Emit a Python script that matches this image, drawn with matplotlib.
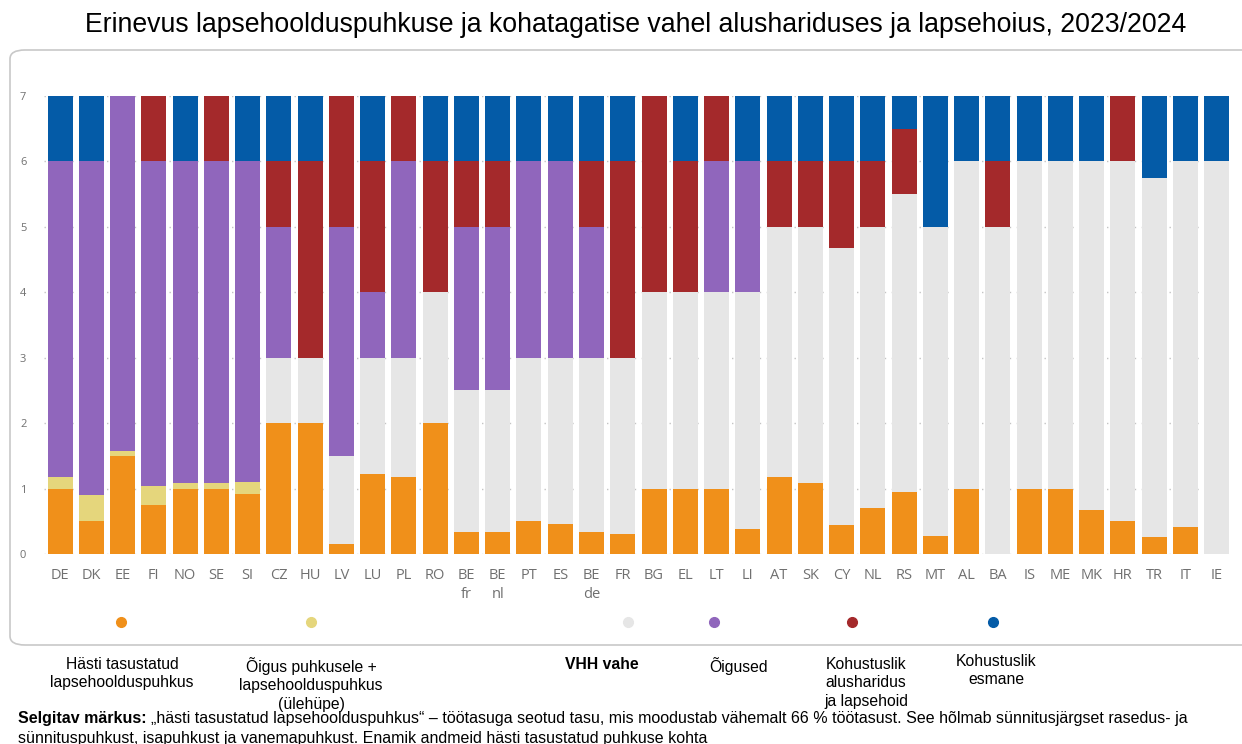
import matplotlib
matplotlib.use("Agg")
import matplotlib.pyplot as plt
import numpy as np
from matplotlib.patches import FancyBboxPatch


countries = ["DE", "DK", "EE", "FI", "NO", "SE", "SI", "CZ", "HU", "LV", "LU", "PL", "RO",
             "BE\nfr", "BE\nnl", "PT", "ES", "BE\nde", "FR", "BG", "EL", "LT", "LI", "AT", "SK",
             "CY", "NL", "RS", "MT", "AL", "BA", "IS", "ME", "MK", "HR", "TR", "IT", "IE"]

# segment heights (years), bottom to top
well_paid = [1.0, 0.5, 1.5, 0.75, 1.0, 1.0, 0.92, 2, 2, 0.16, 1.23, 1.17, 2,
             0.33, 0.33, 0.5, 0.46, 0.33, 0.31, 1, 1, 1, 0.38, 1.17, 1.08,
             0.44, 0.7, 0.94, 0.27, 1, 0, 1, 1, 0.67, 0.5, 0.26, 0.42, 0]
leave_plus = [0.17, 0.4, 0.08, 0.29, 0.08, 0.08, 0.18, 0, 0, 0, 0, 0, 0,
              0, 0, 0, 0, 0, 0, 0, 0, 0, 0, 0, 0,
              0, 0, 0, 0, 0, 0, 0, 0, 0, 0, 0, 0, 0]
gap = [0, 0, 0, 0, 0, 0, 0, 1, 1, 1.34, 1.77, 1.83, 2,
       2.17, 2.17, 2.5, 2.54, 2.67, 2.69, 3, 3, 3, 3.62, 3.83, 3.92,
       4.23, 4.3, 4.56, 4.73, 5, 5, 5, 5, 5.33, 5.5, 5.49, 5.58, 6]
entitlement = [4.83, 5.1, 5.42, 4.96, 4.92, 4.92, 4.9, 2, 0, 3.5, 1, 3, 0,
               2.5, 2.5, 3, 3, 2, 0, 0, 0, 2, 2, 0, 0,
               0, 0, 0, 0, 0, 0, 0, 0, 0, 0, 0, 0, 0]
compulsory_ecec = [0, 0, 0, 1, 0, 1, 0, 1, 3, 2, 2, 1, 2,
                   1, 1, 0, 0, 1, 3, 3, 2, 1, 0, 1, 1,
                   1.33, 1, 1, 0, 0, 1, 0, 0, 0, 1, 0, 0, 0]
compulsory_primary = [1, 1, 0, 0, 1, 0, 1, 1, 1, 0, 1, 0, 1,
                      1, 1, 1, 1, 1, 1, 0, 1, 0, 1, 1, 1,
                      1, 1, 0.5, 2, 1, 1, 1, 1, 1, 0, 1.25, 1, 1]

series = [well_paid, leave_plus, gap, entitlement, compulsory_ecec, compulsory_primary]
colors = ["#F0901A", "#E5D67C", "#E6E6E6", "#9066BC", "#A4292B", "#045BA7"]
legend_labels = ["Hästi tasustatud\nlapsehoolduspuhkus",
                 "Õigus puhkusele +\nlapsehoolduspuhkus\n(ülehüpe)",
                 "VHH vahe", "Õigused",
                 "Kohustuslik\nalusharidus\nja lapsehoid",
                 "Kohustuslik\nesmane"]

title = "Erinevus lapsehoolduspuhkuse ja kohatagatise vahel alushariduses ja lapsehoius, 2023/2024"

W, H = 1242, 744
fig = plt.figure(figsize=(W / 100, H / 100), dpi=100)
fig.patch.set_facecolor("white")

# panel frame
panel = FancyBboxPatch((10 / W, 1 - 645 / H), 1.1, (645 - 50) / H,
                       boxstyle="round,pad=0,rounding_size=0.012",
                       transform=fig.transFigure, facecolor="none",
                       edgecolor="#C8C8C8", linewidth=1.2, zorder=-1)
fig.add_artist(panel)

ax = fig.add_axes([44.4 / W, 1 - 554 / H, 1188 / W, 458 / H])
ax.set_facecolor("none")

x = np.arange(len(countries))
bottom = np.zeros(len(countries))
for vals, c in zip(series, colors):
    vals = np.array(vals, dtype=float)
    ax.bar(x, vals, bottom=bottom, width=0.8, color=c, edgecolor="none")
    bottom += vals

ax.set_xlim(-0.5, len(countries) - 0.5)
ax.set_ylim(0, 7)
ax.set_yticks(range(8))
ax.set_xticks(x)
ax.set_xticklabels(countries, fontsize=10.5, color="#707070", family="Open Sans",
                   linespacing=1.4)
ax.tick_params(axis="y", labelsize=8, labelcolor="#707070", length=0, pad=13)
ax.tick_params(axis="x", length=0, pad=10)
for lbl in ax.get_yticklabels():
    lbl.set_family("Open Sans")
ax.grid(axis="y", linestyle=(0, (1, 4)), color="#C4C4C4", linewidth=1)
ax.set_axisbelow(True)
for s in ax.spines.values():
    s.set_visible(False)

fig.text(636 / W, 1 - 25 / H, title, ha="center", va="center",
         fontsize=19.2, family="Liberation Sans", color="black")

# legend dots (inside panel) and labels (below panel)
dot_x = [121, 311, 628, 714, 852, 993]
lab_x = [122, 311, 602, 739, 866, 996]
lab_y = [657, 657, 657, 657, 657, 654]
for i in range(len(colors)):
    fig.add_artist(plt.Line2D([dot_x[i] / W], [1 - 622 / H], marker="o", markersize=7,
                              color=colors[i], linestyle="none",
                              transform=fig.transFigure))
    fig.text(lab_x[i] / W, 1 - lab_y[i] / H, legend_labels[i], ha="center", va="top",
             fontsize=11.3, family="Liberation Sans", linespacing=1.28,
             fontweight="bold" if legend_labels[i] == "VHH vahe" else "normal")

# footnote
fig.canvas.draw()
r = fig.canvas.get_renderer()
t1 = fig.text(18 / W, 1 - 718 / H, "Selgitav märkus:", ha="left", va="center",
              fontsize=11.5, fontweight="bold", family="Liberation Sans")
bb = t1.get_window_extent(renderer=r)
fig.text(bb.x1 / W + 4 / W, 1 - 718 / H,
         "„hästi tasustatud lapsehoolduspuhkus“ – töötasuga seotud tasu, mis moodustab vähemalt 66 % töötasust. "
         "See hõlmab sünnitusjärgset rasedus- ja",
         ha="left", va="center", fontsize=11.5, family="Liberation Sans")
fig.text(18 / W, 1 - 738 / H,
         "sünnituspuhkust, isapuhkust ja vanemapuhkust. Enamik andmeid hästi tasustatud puhkuse kohta",
         ha="left", va="center", fontsize=11.5, family="Liberation Sans")

plt.savefig("out.png", dpi=100)
